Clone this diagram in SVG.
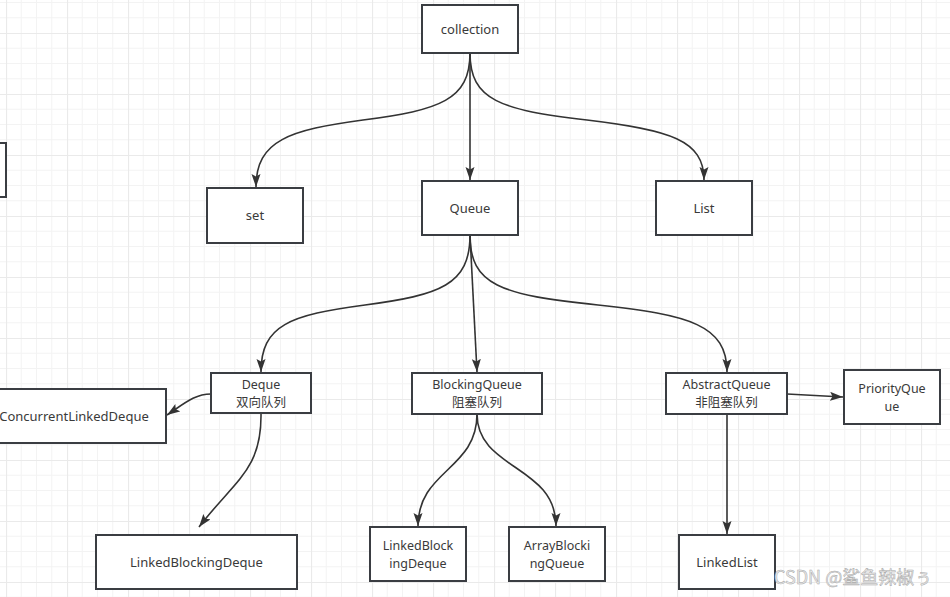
<svg xmlns="http://www.w3.org/2000/svg" width="950" height="597" viewBox="0 0 950 597">
<style>
.box{fill:#ffffff;stroke:#3a3d42;stroke-width:2}
.t{font-family:"Noto Sans","Noto Sans CJK SC",sans-serif;font-size:13px;fill:#3a3a3a;text-anchor:middle}
.t2{font-family:"Noto Sans","Noto Sans CJK SC",sans-serif;font-size:12.5px;fill:#3a3a3a;text-anchor:middle}
.e{fill:none;stroke:#333333;stroke-width:1.6}
.wm{font-family:"Noto Sans CJK SC","Noto Sans",sans-serif;font-size:18px;fill:#ececec;stroke:#a8a8a8;stroke-width:0.5}
</style>
<defs>
<pattern id="grid" width="61" height="61" patternUnits="userSpaceOnUse" x="6" y="33">
<path d="M15.25 0V61M30.5 0V61M45.75 0V61M0 15.25H61M0 30.5H61M0 45.75H61" stroke="#f3f3f3" stroke-width="1" fill="none"/>
<path d="M0.5 0V61M0 0.5H61" stroke="#eaeaea" stroke-width="1.2" fill="none"/>
</pattern>
<marker id="arr" markerUnits="userSpaceOnUse" markerWidth="14" markerHeight="10" refX="13" refY="4.5" orient="auto" viewBox="0 0 14 10">
<path d="M0 0L13 4.5L0 9L2.5 4.5z" fill="#333333"/>
</marker>
</defs>
<rect width="950" height="597" fill="#ffffff"/>
<rect width="950" height="597" fill="url(#grid)"/>

<g id="connectors">
<path class="e" marker-end="url(#arr)" d="M470 53C470 100 440 110 363 120C290 130 256 140 256 187"/>
<path class="e" marker-end="url(#arr)" d="M470 53L470 180"/>
<path class="e" marker-end="url(#arr)" d="M470 53C470 100 500 110 587 120C670 130 704 140 704 180"/>
<path class="e" marker-end="url(#arr)" d="M470 235C470 285 440 295 365 305C290 315 261 325 261 372"/>
<path class="e" marker-end="url(#arr)" d="M470 235L477 372"/>
<path class="e" marker-end="url(#arr)" d="M470 235C470 285 500 295 598 305C690 315 727 325 727 372"/>
<path class="e" marker-end="url(#arr)" d="M211 394C195 394 185 403 167 415"/>
<path class="e" marker-end="url(#arr)" d="M261 413C262 470 235 480 199 527"/>
<path class="e" marker-end="url(#arr)" d="M477 414C477 470 418 470 418 526"/>
<path class="e" marker-end="url(#arr)" d="M477 414C477 470 556 465 556 526"/>
<path class="e" marker-end="url(#arr)" d="M787 394L843 397"/>
<path class="e" marker-end="url(#arr)" d="M727 414L727 534"/>
</g>

<g id="partial"><rect class="box" x="-50" y="143" width="56" height="54"/></g>
<g id="collection"><rect class="box" x="422" y="5" width="96" height="48"/><text class="t" x="470" y="33.5">collection</text></g>
<g id="set"><rect class="box" x="207" y="188" width="96" height="55"/><text class="t" x="255" y="220">set</text></g>
<g id="queue"><rect class="box" x="422" y="181" width="96" height="54"/><text class="t" x="470" y="212.5">Queue</text></g>
<g id="list"><rect class="box" x="656" y="181" width="96" height="54"/><text class="t" x="704" y="212.5">List</text></g>
<g id="deque"><rect class="box" x="211" y="373" width="100" height="40"/><text class="t2" x="261" y="389.2">Deque</text><text class="t2" x="261" y="406.5">双向队列</text></g>
<g id="concurrentLinkedDeque"><rect class="box" x="-35" y="389" width="201" height="54"/><text class="t" x="74" y="420.5">ConcurrentLinkedDeque</text></g>
<g id="blockingQueue"><rect class="box" x="412" y="373" width="130" height="41"/><text class="t2" x="477" y="389.2">BlockingQueue</text><text class="t2" x="477" y="406.5">阻塞队列</text></g>
<g id="abstractQueue"><rect class="box" x="666" y="373" width="121" height="41"/><text class="t2" x="726.5" y="389.2">AbstractQueue</text><text class="t2" x="726.5" y="406.5">非阻塞队列</text></g>
<g id="priorityQueue"><rect class="box" x="844" y="370" width="96" height="54"/><text class="t2" x="892" y="393.2">PriorityQue</text><text class="t2" x="892" y="410.5">ue</text></g>
<g id="linkedBlockingDeque"><rect class="box" x="96" y="535" width="201" height="54"/><text class="t" x="196.5" y="566.5">LinkedBlockingDeque</text></g>
<g id="linkedBlockingDeque2"><rect class="box" x="370" y="527" width="96" height="54"/><text class="t2" x="418" y="550.2">LinkedBlock</text><text class="t2" x="418" y="567.5">ingDeque</text></g>
<g id="arrayBlockingQueue"><rect class="box" x="509" y="527" width="96" height="54"/><text class="t2" x="557" y="550.2">ArrayBlocki</text><text class="t2" x="557" y="567.5">ngQueue</text></g>
<g id="linkedList"><rect class="box" x="679" y="535" width="96" height="54"/><text class="t" x="727" y="566.5">LinkedList</text></g>

<text class="wm" x="774" y="584">CSDN @鲨鱼辣椒ぅ</text>
</svg>
